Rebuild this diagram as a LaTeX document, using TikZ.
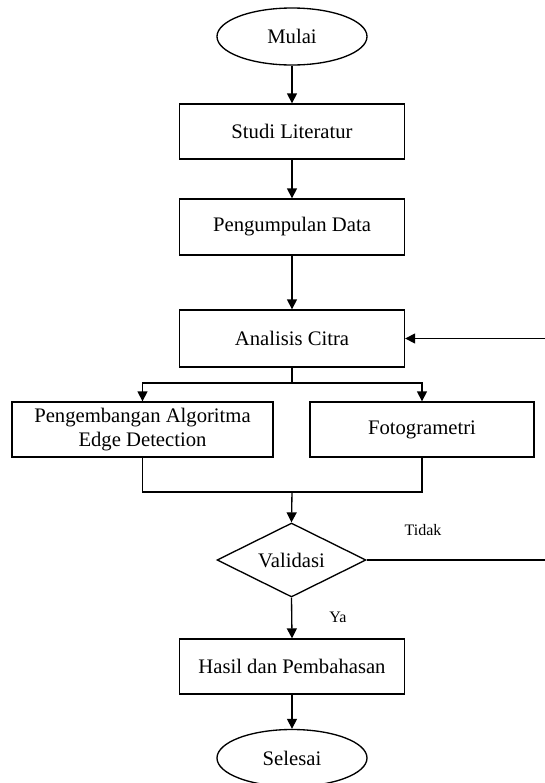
\documentclass[tikz,border=0pt]{standalone}
\usepackage{fontspec}
\setmainfont{Liberation Serif}
\usetikzlibrary{shapes.geometric,arrows.meta}
\begin{document}
\begin{tikzpicture}[x=0.75pt,y=-0.75pt,
  every node/.style={font=\fontsize{15.5}{17.5}\selectfont, inner sep=0pt},
  box/.style={draw, line width=1pt, rectangle, minimum width=168.75pt, align=center},
  term/.style={draw, line width=1pt, ellipse, minimum width=112.5pt, minimum height=42.75pt},
  deci/.style={draw, line width=1pt, diamond, aspect=2, minimum width=111.75pt, minimum height=55.5pt},
  lbl/.style={font=\fontsize{12}{14}\selectfont},
  ln/.style={line width=1pt},
  arr/.style={line width=1pt, -{Triangle[length=7.5pt,width=7.5pt]}}]
\useasboundingbox (0,0) rectangle (545,783);
\node[term] (mulai) at (292,36.5) {Mulai};
\node[box, minimum height=41.25pt] (studi) at (292,131.5) {Studi Literatur};
\node[box, minimum height=42pt] (peng) at (292,227) {Pengumpulan Data};
\node[box, minimum height=42.75pt] (ana) at (292,338.5) {Analisis Citra};
\node[box, minimum width=195.75pt, minimum height=41.25pt] (left) at (142.5,429.5) {Pengembangan Algoritma\\Edge Detection};
\node[box, minimum width=168pt, minimum height=41.25pt] (right) at (422,429.5) {Fotogrametri};
\node[deci] (val) at (291.5,560) {Validasi};
\node[box, minimum height=41.25pt] (hasil) at (292,666.5) {Hasil dan Pembahasan};
\node[term] (selesai) at (292,758) {Selesai};
\node[lbl] (tidak) at (423,530) {Tidak};
\node[lbl] (ya) at (338,617) {Ya};
\coordinate (br) at (292,383);
\coordinate (jn) at (292,492);
\coordinate (fb) at (549,560);
\draw[arr] (mulai) -- (studi);
\draw[arr] (studi) -- (peng);
\draw[arr] (peng) -- (ana);
\draw[ln] (ana.south) -- (br);
\draw[arr] (br) -| (left.north);
\draw[arr] (br) -| (right.north);
\draw[ln] (left.south) |- (jn);
\draw[ln] (right.south) |- (jn);
\draw[arr] (jn) -- (val.north);
\draw[arr] (val.east) -- (fb) |- (ana.east);
\draw[arr] (val.south) -- (hasil.north);
\draw[arr] (hasil) -- (selesai);
\end{tikzpicture}
\end{document}
